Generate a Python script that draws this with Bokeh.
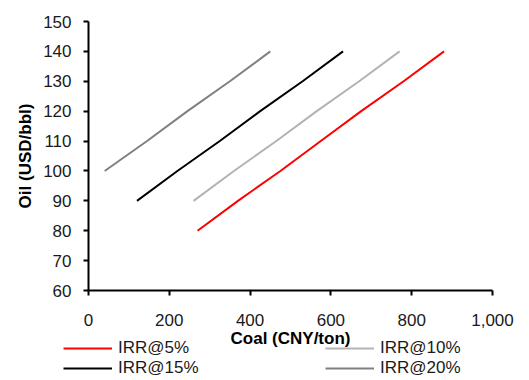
from bokeh.plotting import figure
from bokeh.layouts import column
from bokeh.models import Legend, LegendItem, NumeralTickFormatter, FixedTicker, Range1d
from bokeh.embed import file_html
from bokeh.resources import INLINE

# Data (Coal price in CNY/ton needed for given Oil price in USD/bbl)
oil_5 = [80, 90, 100, 110, 120, 130, 140]
coal_5 = [270, 370, 475, 575, 675, 780, 880]
oil_10 = [90, 100, 110, 120, 130, 140]
coal_10 = [260, 360, 465, 565, 670, 770]
oil_15 = [90, 100, 110, 120, 130, 140]
coal_15 = [120, 220, 325, 425, 530, 630]
oil_20 = [100, 110, 120, 130, 140]
coal_20 = [40, 145, 245, 350, 450]

labels = ["IRR@5%", "IRR@10%", "IRR@15%", "IRR@20%"]
colors = ["#ff0000", "#b3b3b3", "#000000", "#808080"]
x_ticks = [0, 200, 400, 600, 800, 1000]
y_ticks = [60, 70, 80, 90, 100, 110, 120, 130, 140, 150]

FONT = "Liberation Sans"

p = figure(width=529, height=380, output_backend="svg", toolbar_location=None,
           x_range=Range1d(0, 1000), y_range=Range1d(60, 150),
           min_border_left=88, min_border_right=37, min_border_top=21, min_border_bottom=90)
p.outline_line_color = None
p.xgrid.visible = False
p.ygrid.visible = False
p.frame_align = False

series = [(coal_5, oil_5), (coal_10, oil_10), (coal_15, oil_15), (coal_20, oil_20)]
for (xs, ys), c in zip(series, colors):
    p.line(xs, ys, line_color=c, line_width=2)

for ax in (p.xaxis[0], p.yaxis[0]):
    ax.axis_line_width = 2
    ax.axis_line_color = "black"
    ax.major_tick_line_width = 2
    ax.major_tick_out = 5
    ax.major_tick_in = 0
    ax.minor_tick_line_color = None
    ax.major_label_text_font = FONT
    ax.major_label_text_font_size = "17px"
    ax.major_label_text_color = "#1a1a1a"
    ax.axis_label_text_font = FONT
    ax.axis_label_text_font_size = "17px"
    ax.axis_label_text_font_style = "bold"
    ax.axis_label_text_color = "black"

p.xaxis.ticker = FixedTicker(ticks=x_ticks)
p.xaxis.formatter = NumeralTickFormatter(format="0,0")
p.yaxis.ticker = FixedTicker(ticks=y_ticks)
p.xaxis.axis_label = "Coal (CNY/ton)"
p.yaxis.axis_label = "Oil (USD/bbl)"
p.xaxis.major_label_standoff = 18
p.xaxis.axis_label_standoff = 0
p.yaxis.major_label_standoff = 12
p.yaxis.axis_label_standoff = 5

# transparent legend strip laid over the bottom of the chart
LH = 50
lp = figure(width=529, height=LH, output_backend="svg", toolbar_location=None,
            x_range=Range1d(0, 529), y_range=Range1d(0, LH),
            min_border_left=0, min_border_right=0, min_border_top=0, min_border_bottom=0)
lp.outline_line_color = None
lp.axis.visible = False
lp.xgrid.visible = False
lp.ygrid.visible = False
lp.frame_align = False
lp.background_fill_alpha = 0
lp.border_fill_alpha = 0
lp.margin = (-LH, 0, 0, 0)
# off-screen stand-ins so the legend can draw its line samples
dummies = [lp.line([-20, -10], [-20, -10], line_color=c, line_width=2) for c in colors]

def make_legend(items, loc):
    return Legend(items=items, location=loc, orientation="vertical",
                  background_fill_alpha=0, border_line_color=None,
                  padding=0, margin=0, spacing=0,
                  glyph_width=49, glyph_height=18, label_height=18,
                  label_standoff=6, label_text_font=FONT,
                  label_text_font_size="17px", label_text_color="#1a1a1a")

lg1 = make_legend([LegendItem(label=labels[0], renderers=[dummies[0]]),
                   LegendItem(label=labels[2], renderers=[dummies[2]])], (63, 2))
lg2 = make_legend([LegendItem(label=labels[1], renderers=[dummies[1]]),
                   LegendItem(label=labels[3], renderers=[dummies[3]])], (325, 2))
lp.add_layout(lg1, "center")
lp.add_layout(lg2, "center")

layout = column(p, lp, spacing=0)
open("out.html", "w").write(file_html(layout, INLINE))
